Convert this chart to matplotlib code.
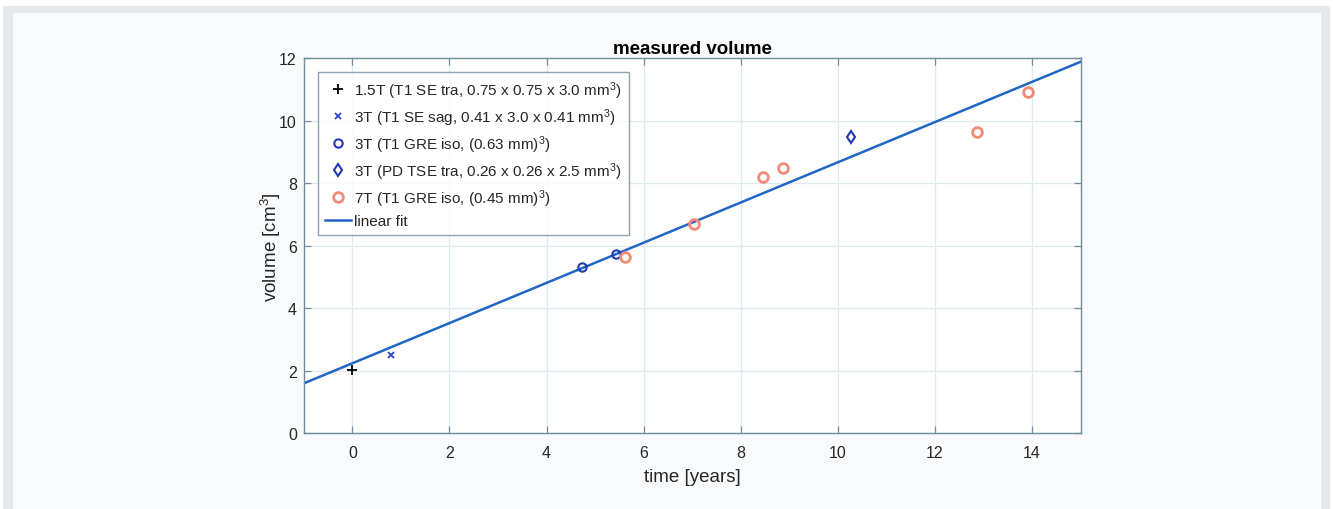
#!/usr/bin/env python3

import matplotlib
matplotlib.use("Agg")
import matplotlib.pyplot as plt
from matplotlib.patches import Rectangle


# Values
t_15T = [0.0]
v_15T = [2.04]
t_3T_se = [0.8]
v_3T_se = [2.5]
t_3T_gre = [4.72, 5.42]
v_3T_gre = [5.33, 5.75]
t_3T_pd = [10.26]
v_3T_pd = [9.49]
t_7T = [5.61, 7.03, 8.46, 8.87, 12.87, 13.92]
v_7T = [5.63, 6.69, 8.19, 8.50, 9.65, 10.92]
fit_t = [-1, 15]
fit_v = [1.60, 11.89]

labels = [
    "1.5T (T1 SE tra, 0.75 x 0.75 x 3.0 mm$^3$)",
    "3T (T1 SE sag, 0.41 x 3.0 x 0.41 mm$^3$)",
    "3T (T1 GRE iso, (0.63 mm)$^3$)",
    "3T (PD TSE tra, 0.26 x 0.26 x 2.5 mm$^3$)",
    "7T (T1 GRE iso, (0.45 mm)$^3$)",
    "linear fit",
]
x_ticks = [0, 2, 4, 6, 8, 10, 12, 14]
y_ticks = [0, 2, 4, 6, 8, 10, 12]


def main():
    plt.rcParams["font.family"] = ["Liberation Sans", "DejaVu Sans"]
    plt.rcParams["mathtext.fontset"] = "custom"
    plt.rcParams["mathtext.rm"] = "Liberation Sans"
    plt.rcParams["mathtext.it"] = "Liberation Sans:italic"

    axis_col = "#6f8c9c"
    text_col = "#262626"

    fig = plt.figure(figsize=(13.33, 5.10), dpi=100)
    fig.patch.set_facecolor("white")

    # page frame round the figure panel
    W, H = 1333.0, 510.0
    fig.patches.append(Rectangle((3 / W, 0), (1330 - 3) / W, (510 - 7) / H,
                                 transform=fig.transFigure, facecolor="#e7e8ea",
                                 edgecolor="none", zorder=-10))
    fig.patches.append(Rectangle((13 / W, 0), (1321 - 13) / W, (510 - 14) / H,
                                 transform=fig.transFigure, facecolor="#f9fafc",
                                 edgecolor="none", zorder=-9))

    ax = fig.add_axes([303.8 / W, 75.6 / H, (1080.7 - 303.8) / W, (434.4 - 59.3) / H])
    ax.set_facecolor("white")

    ax.plot(t_15T, v_15T, linestyle="none", marker="+", color="black",
            markersize=7, markeredgewidth=1.3, label=labels[0])
    ax.plot(t_3T_se, v_3T_se, linestyle="none", marker="x", color="#2c46c8",
            markersize=5, markeredgewidth=1.3, label=labels[1])
    ax.plot(t_3T_gre, v_3T_gre, linestyle="none", marker="o", color="#2438b0",
            markerfacecolor="none", markersize=6, markeredgewidth=1.5, label=labels[2])
    ax.plot(t_3T_pd, v_3T_pd, linestyle="none", marker="d", color="#2438b0",
            markerfacecolor="none", markersize=6, markeredgewidth=1.5, label=labels[3])
    ax.plot(t_7T, v_7T, linestyle="none", marker="o", color="#f28a78",
            markerfacecolor="none", markersize=7, markeredgewidth=2.0, label=labels[4])
    ax.plot(fit_t, fit_v, color="#2166c4", linewidth=1.8, label=labels[5], zorder=1)

    ax.set_xlim(-1, 15)
    ax.set_ylim(0, 12)
    ax.set_xticks(x_ticks)
    ax.set_yticks(y_ticks)
    ax.grid(True, color="#dde9ef", linewidth=0.9)
    ax.set_axisbelow(True)
    ax.tick_params(direction="in", length=5, width=0.9, color=axis_col,
                   labelcolor=text_col, labelsize=11.5, top=True, right=True)
    ax.tick_params(axis="x", pad=8)
    ax.tick_params(axis="y", pad=5)
    for s in ax.spines.values():
        s.set_color(axis_col)
        s.set_linewidth(1.0)

    ax.set_title("measured volume", fontsize=13.5, fontweight="bold", color="black", pad=4)
    ax.set_xlabel("time [years]", fontsize=13.5, color=text_col, labelpad=6)
    ax.set_ylabel("volume [cm$^3$]", fontsize=13.5, color=text_col, labelpad=-3)

    leg = ax.legend(loc="upper left", bbox_to_anchor=(14 / 777, 1 - 14 / 375),
                    borderaxespad=0, fontsize=11, frameon=True, fancybox=False,
                    edgecolor=axis_col, handlelength=1.75, handletextpad=0.2,
                    borderpad=0.45, labelspacing=0.35, numpoints=1)
    leg.get_frame().set_linewidth(1.0)
    for txt in leg.get_texts():
        txt.set_color(text_col)

    fig.savefig("out.png", dpi=100, facecolor=fig.get_facecolor())


if __name__ == "__main__":
    main()
